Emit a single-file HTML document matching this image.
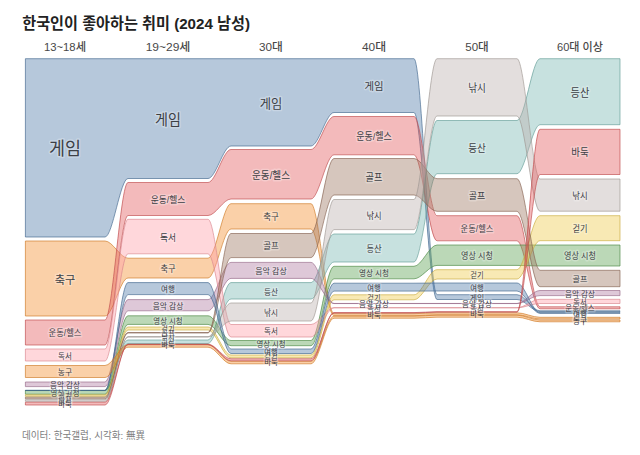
<!DOCTYPE html>
<html lang="ko">
<head>
<meta charset="utf-8">
<title>한국인이 좋아하는 취미 (2024 남성)</title>
<style>
html,body{margin:0;padding:0;background:#fff;}
body{width:640px;height:455px;overflow:hidden;font-family:"Liberation Sans","Noto Sans CJK KR",sans-serif;}
svg{display:block;}
.t{font-family:"Liberation Sans","Noto Sans CJK KR",sans-serif;}
</style>
</head>
<body>
<svg width="640" height="455" viewBox="0 0 640 455">
<rect width="640" height="455" fill="#fff"/>
<g id="ribbons" stroke-linejoin="round">
<path d="M25.4,58.7H105C112.67,58.7 120.33,58.7 128,58.7H208C215.67,58.7 223.33,58.7 231,58.7H311C318.67,58.7 326.33,58.7 334,58.7H414C421.67,58.7 429.33,294.7 437,294.7H517C524.67,294.7 532.33,310.8 540,310.8H620V311.6H540C532.33,311.6 524.67,299.5 517,299.5H437C429.33,299.5 421.67,112.5 414,112.5H334C326.33,112.5 318.67,146 311,146H231C223.33,146 215.67,178.5 208,178.5H128C120.33,178.5 112.67,237 105,237H25.4Z" fill="#4e79a7" fill-opacity="0.41" stroke="#42678e" stroke-opacity="0.65" stroke-width="1"/>
<path d="M25.4,241H105C112.67,241 120.33,258.2 128,258.2H208C215.67,258.2 223.33,203.7 231,203.7H311C318.67,203.7 326.33,313.7 334,313.7H414C421.67,313.7 429.33,312.8 437,312.8H517C524.67,312.8 532.33,317.3 540,317.3H620V319H540C532.33,319 524.67,314.8 517,314.8H437C429.33,314.8 421.67,315.7 414,315.7H334C326.33,315.7 318.67,229 311,229H231C223.33,229 215.67,278 208,278H128C120.33,278 112.67,316 105,316H25.4Z" fill="#f28e2b" fill-opacity="0.41" stroke="#ce7925" stroke-opacity="0.65" stroke-width="1"/>
<path d="M25.4,320H105C112.67,320 120.33,182.5 128,182.5H208C215.67,182.5 223.33,149.5 231,149.5H311C318.67,149.5 326.33,116.5 334,116.5H414C421.67,116.5 429.33,215.7 437,215.7H517C524.67,215.7 532.33,306.8 540,306.8H620V308.8H540C532.33,308.8 524.67,240.8 517,240.8H437C429.33,240.8 421.67,154.8 414,154.8H334C326.33,154.8 318.67,199 311,199H231C223.33,199 215.67,215.5 208,215.5H128C120.33,215.5 112.67,345 105,345H25.4Z" fill="#e15759" fill-opacity="0.41" stroke="#bf4a4c" stroke-opacity="0.65" stroke-width="1"/>
<path d="M25.4,390.4H105C112.67,390.4 120.33,340 128,340H208C215.67,340 223.33,282.6 231,282.6H311C318.67,282.6 326.33,234 334,234H414C421.67,234 429.33,120.5 437,120.5H517C524.67,120.5 532.33,58.7 540,58.7H620V124.7H540C532.33,124.7 524.67,173.7 517,173.7H437C429.33,173.7 421.67,262 414,262H334C326.33,262 318.67,299 311,299H231C223.33,299 215.67,343.5 208,343.5H128C120.33,343.5 112.67,390.6 105,390.6H25.4Z" fill="#76b7b2" fill-opacity="0.41" stroke="#649c97" stroke-opacity="0.65" stroke-width="1"/>
<path d="M25.4,390.5H105C112.67,390.5 120.33,315.8 128,315.8H208C215.67,315.8 223.33,340.5 231,340.5H311C318.67,340.5 326.33,266.3 334,266.3H414C421.67,266.3 429.33,245 437,245H517C524.67,245 532.33,245 540,245H620V266H540C532.33,266 524.67,265.4 517,265.4H437C429.33,265.4 421.67,278.8 414,278.8H334C326.33,278.8 318.67,345.7 311,345.7H231C223.33,345.7 215.67,324.4 208,324.4H128C120.33,324.4 112.67,394.2 105,394.2H25.4Z" fill="#59a14f" fill-opacity="0.41" stroke="#4c8943" stroke-opacity="0.65" stroke-width="1"/>
<path d="M25.4,394.8H105C112.67,394.8 120.33,327 128,327H208C215.67,327 223.33,355 231,355H311C318.67,355 326.33,294.8 334,294.8H414C421.67,294.8 429.33,269.7 437,269.7H517C524.67,269.7 532.33,215.7 540,215.7H620V240.7H540C532.33,240.7 524.67,279 517,279H437C429.33,279 421.67,299.8 414,299.8H334C326.33,299.8 318.67,357.8 311,357.8H231C223.33,357.8 215.67,330 208,330H128C120.33,330 112.67,396.3 105,396.3H25.4Z" fill="#edc948" fill-opacity="0.41" stroke="#c9ab3d" stroke-opacity="0.65" stroke-width="1"/>
<path d="M25.4,382H105C112.67,382 120.33,299.6 128,299.6H208C215.67,299.6 223.33,262.4 231,262.4H311C318.67,262.4 326.33,303.45 334,303.45H414C421.67,303.45 429.33,303.45 437,303.45H517C524.67,303.45 532.33,290.5 540,290.5H620V295.6H540C532.33,295.6 524.67,303.55 517,303.55H437C429.33,303.55 421.67,303.55 414,303.55H334C326.33,303.55 318.67,278.4 311,278.4H231C223.33,278.4 215.67,310.8 208,310.8H128C120.33,310.8 112.67,386.6 105,386.6H25.4Z" fill="#b07aa1" fill-opacity="0.41" stroke="#966889" stroke-opacity="0.65" stroke-width="1"/>
<path d="M25.4,349H105C112.67,349 120.33,219.3 128,219.3H208C215.67,219.3 223.33,324.5 231,324.5H311C318.67,324.5 326.33,307.7 334,307.7H414C421.67,307.7 429.33,307.7 437,307.7H517C524.67,307.7 532.33,299.3 540,299.3H620V303.5H540C532.33,303.5 524.67,307.8 517,307.8H437C429.33,307.8 421.67,307.8 414,307.8H334C326.33,307.8 318.67,337 311,337H231C223.33,337 215.67,253.8 208,253.8H128C120.33,253.8 112.67,361 105,361H25.4Z" fill="#ff9da7" fill-opacity="0.41" stroke="#d9858e" stroke-opacity="0.65" stroke-width="1"/>
<path d="M25.4,397.2H105C112.67,397.2 120.33,332.5 128,332.5H208C215.67,332.5 223.33,233.5 231,233.5H311C318.67,233.5 326.33,158.5 334,158.5H414C421.67,158.5 429.33,178.7 437,178.7H517C524.67,178.7 532.33,270.3 540,270.3H620V286.7H540C532.33,286.7 524.67,211.3 517,211.3H437C429.33,211.3 421.67,195 414,195H334C326.33,195 318.67,257.6 311,257.6H231C223.33,257.6 215.67,333 208,333H128C120.33,333 112.67,398.8 105,398.8H25.4Z" fill="#9c755f" fill-opacity="0.41" stroke="#856351" stroke-opacity="0.65" stroke-width="1"/>
<path d="M25.4,399.7H105C112.67,399.7 120.33,336.6 128,336.6H208C215.67,336.6 223.33,303 231,303H311C318.67,303 326.33,199.5 334,199.5H414C421.67,199.5 429.33,58.7 437,58.7H517C524.67,58.7 532.33,179 540,179H620V211.2H540C532.33,211.2 524.67,116 517,116H437C429.33,116 421.67,229.6 414,229.6H334C326.33,229.6 318.67,321 311,321H231C223.33,321 215.67,337.1 208,337.1H128C120.33,337.1 112.67,401.3 105,401.3H25.4Z" fill="#bab0ac" fill-opacity="0.41" stroke="#9e9692" stroke-opacity="0.65" stroke-width="1"/>
<path d="M25.4,390.3H105C112.67,390.3 120.33,282.6 128,282.6H208C215.67,282.6 223.33,349 231,349H311C318.67,349 326.33,283.2 334,283.2H414C421.67,283.2 429.33,283 437,283H517C524.67,283 532.33,312.6 540,312.6H620V313.4H540C532.33,313.4 524.67,291 517,291H437C429.33,291 421.67,291.1 414,291.1H334C326.33,291.1 318.67,353.5 311,353.5H231C223.33,353.5 215.67,294.6 208,294.6H128C120.33,294.6 112.67,390.5 105,390.5H25.4Z" fill="#4e79a7" fill-opacity="0.41" stroke="#42678e" stroke-opacity="0.65" stroke-width="1"/>
<path d="M25.4,365.5H105C112.67,365.5 120.33,344.6 128,344.6H208C215.67,344.6 223.33,361.3 231,361.3H311C318.67,361.3 326.33,316.2 334,316.2H414C421.67,316.2 429.33,315.2 437,315.2H517C524.67,315.2 532.33,320 540,320H620V321.8H540C532.33,321.8 524.67,317.2 517,317.2H437C429.33,317.2 421.67,318.2 414,318.2H334C326.33,318.2 318.67,363.8 311,363.8H231C223.33,363.8 215.67,347.2 208,347.2H128C120.33,347.2 112.67,377.5 105,377.5H25.4Z" fill="#f28e2b" fill-opacity="0.41" stroke="#ce7925" stroke-opacity="0.65" stroke-width="1"/>
<path d="M25.4,402.2H105C112.67,402.2 120.33,344.2 128,344.2H208C215.67,344.2 223.33,358.8 231,358.8H311C318.67,358.8 326.33,312.6 334,312.6H414C421.67,312.6 429.33,311.7 437,311.7H517C524.67,311.7 532.33,129.3 540,129.3H620V174.5H540C532.33,174.5 524.67,312.1 517,312.1H437C429.33,312.1 421.67,313 414,313H334C326.33,313 318.67,360.8 311,360.8H231C223.33,360.8 215.67,344.7 208,344.7H128C120.33,344.7 112.67,405 105,405H25.4Z" fill="#e15759" fill-opacity="0.41" stroke="#bf4a4c" stroke-opacity="0.65" stroke-width="1"/>
</g>
<g id="title" fill="#222"><text x="136.1" y="28.8" font-size="15.4" font-weight="700" text-anchor="middle" textLength="227.7" lengthAdjust="spacingAndGlyphs" class="t">한국인이 좋아하는 취미 (2024 남성)</text></g>
<g id="heads" fill="#484848">
<text x="65.0" y="51.0" font-size="11.6" font-weight="500" text-anchor="middle" textLength="42.1" lengthAdjust="spacingAndGlyphs" class="t">13~18세</text>
<text x="168.0" y="51.0" font-size="11.6" font-weight="500" text-anchor="middle" textLength="44.7" lengthAdjust="spacingAndGlyphs" class="t">19~29세</text>
<text x="271.0" y="51.0" font-size="11.6" font-weight="500" text-anchor="middle" textLength="23.8" lengthAdjust="spacingAndGlyphs" class="t">30대</text>
<text x="374.0" y="51.0" font-size="11.6" font-weight="500" text-anchor="middle" textLength="24.1" lengthAdjust="spacingAndGlyphs" class="t">40대</text>
<text x="477.0" y="51.0" font-size="11.6" font-weight="500" text-anchor="middle" textLength="23.5" lengthAdjust="spacingAndGlyphs" class="t">50대</text>
<text x="580.0" y="51.0" font-size="11.6" font-weight="500" text-anchor="middle" textLength="45.9" lengthAdjust="spacingAndGlyphs" class="t">60대 이상</text>
</g>
<g id="labels" fill="#3c4045" stroke="#fff" stroke-opacity="0.25" stroke-width="3" stroke-linejoin="round" paint-order="stroke">
<text x="65.0" y="155.1" font-size="17.9" font-weight="400" text-anchor="middle" textLength="32.0" lengthAdjust="spacingAndGlyphs" class="t">게임</text>
<text x="168.0" y="124.5" font-size="14.5" font-weight="400" text-anchor="middle" textLength="25.9" lengthAdjust="spacingAndGlyphs" class="t">게임</text>
<text x="271.0" y="107.6" font-size="12.6" font-weight="400" text-anchor="middle" textLength="22.5" lengthAdjust="spacingAndGlyphs" class="t">게임</text>
<text x="374.0" y="90.1" font-size="10.7" font-weight="400" text-anchor="middle" textLength="19.1" lengthAdjust="spacingAndGlyphs" class="t">게임</text>
<text x="477.0" y="300.6" font-size="8.0" font-weight="400" text-anchor="middle" textLength="14.4" lengthAdjust="spacingAndGlyphs" class="t">게임</text>
<text x="580.0" y="314.7" font-size="8.0" font-weight="400" text-anchor="middle" textLength="14.4" lengthAdjust="spacingAndGlyphs" class="t">게임</text>
<text x="65.0" y="283.5" font-size="11.9" font-weight="400" text-anchor="middle" textLength="20.7" lengthAdjust="spacingAndGlyphs" class="t">축구</text>
<text x="168.0" y="271.9" font-size="8.7" font-weight="400" text-anchor="middle" textLength="15.2" lengthAdjust="spacingAndGlyphs" class="t">축구</text>
<text x="271.0" y="220.2" font-size="9.0" font-weight="400" text-anchor="middle" textLength="15.7" lengthAdjust="spacingAndGlyphs" class="t">축구</text>
<text x="580.0" y="321.6" font-size="8.0" font-weight="400" text-anchor="middle" textLength="14.0" lengthAdjust="spacingAndGlyphs" class="t">축구</text>
<text x="65.0" y="336.4" font-size="9.0" font-weight="400" text-anchor="middle" textLength="33.0" lengthAdjust="spacingAndGlyphs" class="t">운동/헬스</text>
<text x="168.0" y="203.0" font-size="9.5" font-weight="400" text-anchor="middle" textLength="34.7" lengthAdjust="spacingAndGlyphs" class="t">운동/헬스</text>
<text x="271.0" y="178.7" font-size="10.4" font-weight="400" text-anchor="middle" textLength="38.0" lengthAdjust="spacingAndGlyphs" class="t">운동/헬스</text>
<text x="374.0" y="139.8" font-size="9.8" font-weight="400" text-anchor="middle" textLength="35.7" lengthAdjust="spacingAndGlyphs" class="t">운동/헬스</text>
<text x="477.0" y="232.1" font-size="9.0" font-weight="400" text-anchor="middle" textLength="33.0" lengthAdjust="spacingAndGlyphs" class="t">운동/헬스</text>
<text x="580.0" y="311.3" font-size="8.0" font-weight="400" text-anchor="middle" textLength="29.3" lengthAdjust="spacingAndGlyphs" class="t">운동/헬스</text>
<text x="168.0" y="345.2" font-size="8.0" font-weight="400" text-anchor="middle" textLength="13.2" lengthAdjust="spacingAndGlyphs" class="t">등산</text>
<text x="271.0" y="294.5" font-size="8.5" font-weight="400" text-anchor="middle" textLength="14.1" lengthAdjust="spacingAndGlyphs" class="t">등산</text>
<text x="374.0" y="251.9" font-size="9.2" font-weight="400" text-anchor="middle" textLength="15.2" lengthAdjust="spacingAndGlyphs" class="t">등산</text>
<text x="477.0" y="151.6" font-size="10.6" font-weight="400" text-anchor="middle" textLength="17.6" lengthAdjust="spacingAndGlyphs" class="t">등산</text>
<text x="580.0" y="96.5" font-size="11.4" font-weight="400" text-anchor="middle" textLength="18.8" lengthAdjust="spacingAndGlyphs" class="t">등산</text>
<text x="65.0" y="395.9" font-size="8.0" font-weight="400" text-anchor="middle" textLength="29.1" lengthAdjust="spacingAndGlyphs" class="t">영상 시청</text>
<text x="168.0" y="323.6" font-size="8.0" font-weight="400" text-anchor="middle" textLength="29.3" lengthAdjust="spacingAndGlyphs" class="t">영상 시청</text>
<text x="271.0" y="346.6" font-size="8.0" font-weight="400" text-anchor="middle" textLength="29.1" lengthAdjust="spacingAndGlyphs" class="t">영상 시청</text>
<text x="374.0" y="276.2" font-size="8.3" font-weight="400" text-anchor="middle" textLength="30.1" lengthAdjust="spacingAndGlyphs" class="t">영상 시청</text>
<text x="477.0" y="259.0" font-size="8.7" font-weight="400" text-anchor="middle" textLength="31.8" lengthAdjust="spacingAndGlyphs" class="t">영상 시청</text>
<text x="580.0" y="259.3" font-size="8.8" font-weight="400" text-anchor="middle" textLength="31.9" lengthAdjust="spacingAndGlyphs" class="t">영상 시청</text>
<text x="65.0" y="399.1" font-size="8.0" font-weight="400" text-anchor="middle" textLength="13.3" lengthAdjust="spacingAndGlyphs" class="t">걷기</text>
<text x="168.0" y="332.0" font-size="8.0" font-weight="400" text-anchor="middle" textLength="13.3" lengthAdjust="spacingAndGlyphs" class="t">걷기</text>
<text x="271.0" y="359.3" font-size="8.0" font-weight="400" text-anchor="middle" textLength="13.3" lengthAdjust="spacingAndGlyphs" class="t">걷기</text>
<text x="374.0" y="300.8" font-size="8.0" font-weight="400" text-anchor="middle" textLength="13.3" lengthAdjust="spacingAndGlyphs" class="t">걷기</text>
<text x="477.0" y="277.9" font-size="8.1" font-weight="400" text-anchor="middle" textLength="13.5" lengthAdjust="spacingAndGlyphs" class="t">걷기</text>
<text x="580.0" y="232.1" font-size="9.0" font-weight="400" text-anchor="middle" textLength="15.0" lengthAdjust="spacingAndGlyphs" class="t">걷기</text>
<text x="65.0" y="387.8" font-size="8.0" font-weight="400" text-anchor="middle" textLength="29.8" lengthAdjust="spacingAndGlyphs" class="t">음악 감상</text>
<text x="168.0" y="308.8" font-size="8.2" font-weight="400" text-anchor="middle" textLength="30.6" lengthAdjust="spacingAndGlyphs" class="t">음악 감상</text>
<text x="271.0" y="274.1" font-size="8.5" font-weight="400" text-anchor="middle" textLength="31.6" lengthAdjust="spacingAndGlyphs" class="t">음악 감상</text>
<text x="374.0" y="307.0" font-size="8.0" font-weight="400" text-anchor="middle" textLength="29.8" lengthAdjust="spacingAndGlyphs" class="t">음악 감상</text>
<text x="477.0" y="307.0" font-size="8.0" font-weight="400" text-anchor="middle" textLength="29.8" lengthAdjust="spacingAndGlyphs" class="t">음악 감상</text>
<text x="580.0" y="296.6" font-size="8.0" font-weight="400" text-anchor="middle" textLength="29.8" lengthAdjust="spacingAndGlyphs" class="t">음악 감상</text>
<text x="65.0" y="358.6" font-size="8.2" font-weight="400" text-anchor="middle" textLength="13.8" lengthAdjust="spacingAndGlyphs" class="t">독서</text>
<text x="168.0" y="240.6" font-size="9.6" font-weight="400" text-anchor="middle" textLength="16.0" lengthAdjust="spacingAndGlyphs" class="t">독서</text>
<text x="271.0" y="334.4" font-size="8.3" font-weight="400" text-anchor="middle" textLength="13.9" lengthAdjust="spacingAndGlyphs" class="t">독서</text>
<text x="374.0" y="311.2" font-size="8.0" font-weight="400" text-anchor="middle" textLength="13.4" lengthAdjust="spacingAndGlyphs" class="t">독서</text>
<text x="477.0" y="311.2" font-size="8.0" font-weight="400" text-anchor="middle" textLength="13.4" lengthAdjust="spacingAndGlyphs" class="t">독서</text>
<text x="580.0" y="304.9" font-size="8.0" font-weight="400" text-anchor="middle" textLength="13.4" lengthAdjust="spacingAndGlyphs" class="t">독서</text>
<text x="65.0" y="401.5" font-size="8.0" font-weight="400" text-anchor="middle" textLength="14.0" lengthAdjust="spacingAndGlyphs" class="t">골프</text>
<text x="168.0" y="336.2" font-size="8.0" font-weight="400" text-anchor="middle" textLength="14.0" lengthAdjust="spacingAndGlyphs" class="t">골프</text>
<text x="271.0" y="249.4" font-size="8.9" font-weight="400" text-anchor="middle" textLength="15.6" lengthAdjust="spacingAndGlyphs" class="t">골프</text>
<text x="374.0" y="180.9" font-size="9.7" font-weight="400" text-anchor="middle" textLength="16.8" lengthAdjust="spacingAndGlyphs" class="t">골프</text>
<text x="477.0" y="199.0" font-size="9.4" font-weight="400" text-anchor="middle" textLength="16.5" lengthAdjust="spacingAndGlyphs" class="t">골프</text>
<text x="580.0" y="282.2" font-size="8.5" font-weight="400" text-anchor="middle" textLength="14.9" lengthAdjust="spacingAndGlyphs" class="t">골프</text>
<text x="65.0" y="404.0" font-size="8.0" font-weight="400" text-anchor="middle" textLength="13.0" lengthAdjust="spacingAndGlyphs" class="t">낚시</text>
<text x="168.0" y="340.4" font-size="8.0" font-weight="400" text-anchor="middle" textLength="13.0" lengthAdjust="spacingAndGlyphs" class="t">낚시</text>
<text x="271.0" y="315.7" font-size="8.6" font-weight="400" text-anchor="middle" textLength="14.0" lengthAdjust="spacingAndGlyphs" class="t">낚시</text>
<text x="374.0" y="218.5" font-size="9.3" font-weight="400" text-anchor="middle" textLength="15.2" lengthAdjust="spacingAndGlyphs" class="t">낚시</text>
<text x="477.0" y="91.9" font-size="10.9" font-weight="400" text-anchor="middle" textLength="17.7" lengthAdjust="spacingAndGlyphs" class="t">낚시</text>
<text x="580.0" y="199.1" font-size="9.4" font-weight="400" text-anchor="middle" textLength="15.4" lengthAdjust="spacingAndGlyphs" class="t">낚시</text>
<text x="168.0" y="292.2" font-size="8.2" font-weight="400" text-anchor="middle" textLength="13.9" lengthAdjust="spacingAndGlyphs" class="t">여행</text>
<text x="271.0" y="354.8" font-size="8.0" font-weight="400" text-anchor="middle" textLength="13.5" lengthAdjust="spacingAndGlyphs" class="t">여행</text>
<text x="374.0" y="290.7" font-size="8.0" font-weight="400" text-anchor="middle" textLength="13.5" lengthAdjust="spacingAndGlyphs" class="t">여행</text>
<text x="477.0" y="290.5" font-size="8.0" font-weight="400" text-anchor="middle" textLength="13.5" lengthAdjust="spacingAndGlyphs" class="t">여행</text>
<text x="580.0" y="316.5" font-size="8.0" font-weight="400" text-anchor="middle" textLength="13.5" lengthAdjust="spacingAndGlyphs" class="t">여행</text>
<text x="65.0" y="375.1" font-size="8.2" font-weight="400" text-anchor="middle" textLength="14.4" lengthAdjust="spacingAndGlyphs" class="t">농구</text>
<text x="580.0" y="324.4" font-size="8.0" font-weight="400" text-anchor="middle" textLength="14.0" lengthAdjust="spacingAndGlyphs" class="t">농구</text>
<text x="65.0" y="407.1" font-size="8.0" font-weight="400" text-anchor="middle" textLength="13.7" lengthAdjust="spacingAndGlyphs" class="t">바둑</text>
<text x="168.0" y="347.9" font-size="8.0" font-weight="400" text-anchor="middle" textLength="13.7" lengthAdjust="spacingAndGlyphs" class="t">바둑</text>
<text x="271.0" y="364.5" font-size="8.0" font-weight="400" text-anchor="middle" textLength="13.7" lengthAdjust="spacingAndGlyphs" class="t">바둑</text>
<text x="374.0" y="317.8" font-size="8.0" font-weight="400" text-anchor="middle" textLength="13.7" lengthAdjust="spacingAndGlyphs" class="t">바둑</text>
<text x="477.0" y="317.4" font-size="8.0" font-weight="400" text-anchor="middle" textLength="13.7" lengthAdjust="spacingAndGlyphs" class="t">바둑</text>
<text x="580.0" y="156.2" font-size="10.2" font-weight="400" text-anchor="middle" textLength="17.4" lengthAdjust="spacingAndGlyphs" class="t">바둑</text>
</g>
<g id="foot" fill="#808080"><text x="83.5" y="439.0" font-size="9.7" font-weight="400" text-anchor="middle" textLength="123.1" lengthAdjust="spacingAndGlyphs" class="t">데이터: 한국갤럽, 시각화: 無異</text></g>
</svg>
</body>
</html>
